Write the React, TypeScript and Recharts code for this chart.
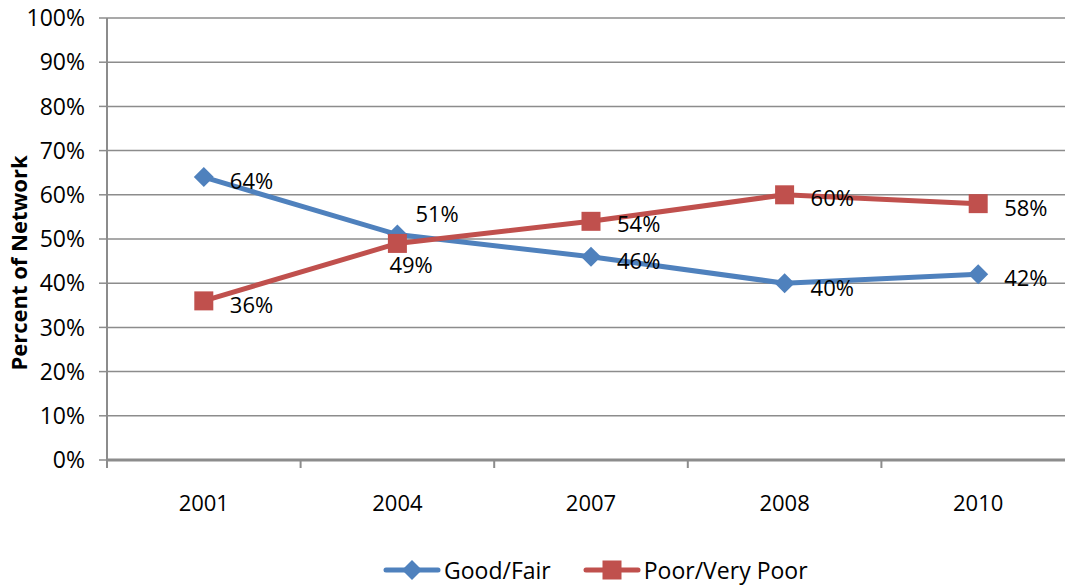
import { LineChart, Line, XAxis, YAxis, CartesianGrid, Legend } from "recharts";

const CATEGORIES = ["2001", "2004", "2007", "2008", "2010"];
const GOOD_FAIR = [0.64, 0.51, 0.46, 0.4, 0.42];
const POOR = [0.36, 0.49, 0.54, 0.6, 0.58];
const Y_TICKS = [0, 0.1, 0.2, 0.3, 0.4, 0.5, 0.6, 0.7, 0.8, 0.9, 1];

const W = 1080, H = 585;
const M = { top: 18, right: 5, left: 0, bottom: 0 };
const Y_W = 107;
const X_H = 95;
const BAND = (W - M.left - M.right - Y_W) / CATEGORIES.length;
const BLUE = "#4f81bd", RED = "#c0504d", GRID = "#8c8c8c";
const FONT = "'Open Sans', sans-serif";
const FS = 22;

const data = CATEGORIES.map((c, i) => ({ year: c, good: GOOD_FAIR[i], poor: POOR[i] }));

// label offsets per point (2004 labels are nudged off the crossing)
const GOOD_OFF = [[26, 3], [18, -22], [26, 3], [26, 4], [26, 3]];
const POOR_OFF = [[26, 3], [-8, 21], [26, 2], [26, 2], [26, 3]];

const pct = (v: number) => Math.round(v * 100) + "%";

function labelFor(offs: number[][]) {
  return (p: any) => {
    const [dx, dy] = offs[p.index] ?? [26, 3];
    return (
      <text x={p.x + dx} y={p.y + dy} textAnchor="start" dominantBaseline="central"
        fontSize={FS} fontFamily={FONT} fill="#000">{pct(p.value)}</text>
    );
  };
}

function Diamond({ cx, cy, size = 10, color = BLUE }: any) {
  if (cx == null || cy == null) return null;
  return <polygon points={`${cx},${cy - size} ${cx + size},${cy} ${cx},${cy + size} ${cx - size},${cy}`} fill={color} />;
}
function Square({ cx, cy, size = 9.5, color = RED }: any) {
  if (cx == null || cy == null) return null;
  return <rect x={cx - size} y={cy - size} width={size * 2} height={size * 2} fill={color} />;
}

function XTick({ x, y, payload, index }: any) {
  const left = x - BAND / 2;
  const top = y - 8;
  return (
    <g>
      <line x1={left} x2={left} y1={top} y2={top + 8} stroke={GRID} strokeWidth={2} />
      {index === CATEGORIES.length - 1 && (
        <line x1={left + BAND} x2={left + BAND} y1={top} y2={top + 8} stroke={GRID} strokeWidth={2} />
      )}
      <text x={x} y={top + 42} textAnchor="middle" dominantBaseline="central"
        fontSize={FS} fontFamily={FONT} fill="#000">{payload.value}</text>
    </g>
  );
}

function LegendBox() {
  const item = (color: string, marker: any, text: string, gap: number) => (
    <span style={{ display: "inline-flex", alignItems: "center", marginRight: gap }}>
      <svg width={58} height={24}>
        <line x1={3} x2={55} y1={12} y2={12} stroke={color} strokeWidth={5} strokeLinecap="round" />
        {marker}
      </svg>
      <span style={{ marginLeft: 3 }}>{text}</span>
    </span>
  );
  return (
    <div style={{ display: "flex", fontFamily: FONT, fontSize: 23, color: "#000", paddingLeft: 383, lineHeight: "30px" }}>
      {item(BLUE, <Diamond cx={29} cy={12} size={10} />, "Good/Fair", 32)}
      {item(RED, <Square cx={29} cy={12} size={9.5} />, "Poor/Very Poor", 0)}
    </div>
  );
}

export default function App() {
  return (
    <div style={{ position: "absolute", left: 0, top: 0, width: W, height: H, background: "#fff" }}>
      <LineChart width={W} height={H} data={data} margin={M}>
        <CartesianGrid vertical={false} stroke={GRID} strokeWidth={1.5} />
        <XAxis dataKey="year" scale="band" height={X_H} tickLine={false}
          axisLine={{ stroke: GRID, strokeWidth: 3 }} tick={<XTick />} interval={0} />
        <YAxis domain={[0, 1]} ticks={Y_TICKS} width={Y_W} tickFormatter={pct}
          axisLine={{ stroke: GRID, strokeWidth: 2 }} tickLine={{ stroke: GRID, strokeWidth: 1.5 }} tickSize={8}
          tick={{ fontSize: 23, fontFamily: FONT, fill: "#000", dx: -12 }}
          label={{ value: "Percent of Network", angle: -90, position: "insideLeft", dx: 14, dy: 24,
            style: { fontSize: 22, fontWeight: 700, fontFamily: FONT, fill: "#000", textAnchor: "middle" } }} />
        <Line dataKey="good" stroke={BLUE} strokeWidth={5} isAnimationActive={false}
          dot={<Diamond />} activeDot={false} label={labelFor(GOOD_OFF)} legendType="none" />
        <Line dataKey="poor" stroke={RED} strokeWidth={5} isAnimationActive={false}
          dot={<Square />} activeDot={false} label={labelFor(POOR_OFF)} legendType="none" />
        <Legend verticalAlign="bottom" height={30} content={() => <LegendBox />} />
      </LineChart>
    </div>
  );
}
